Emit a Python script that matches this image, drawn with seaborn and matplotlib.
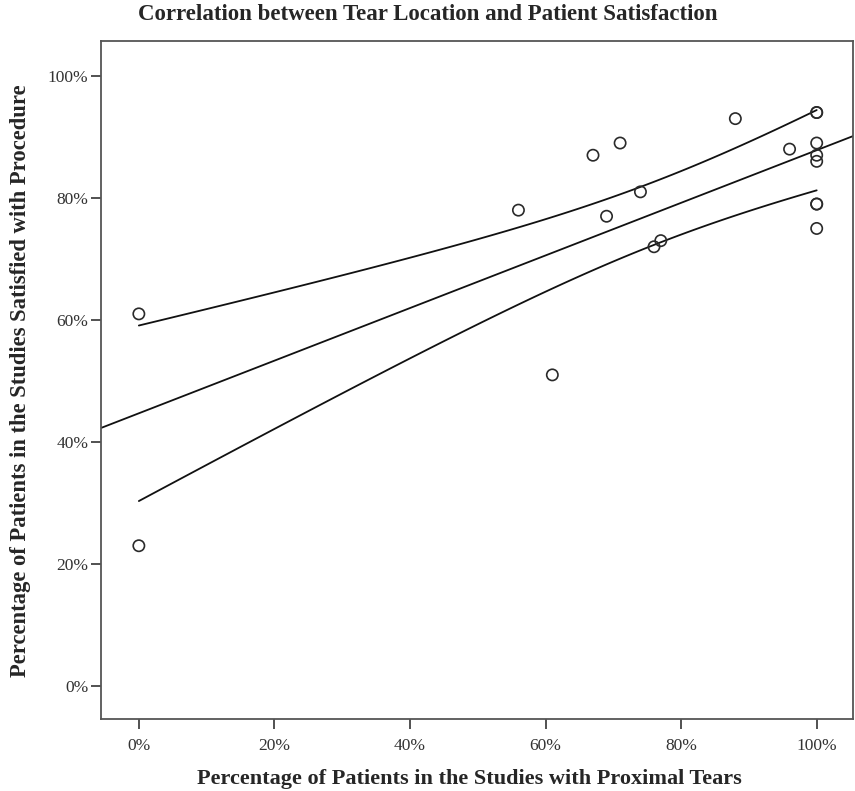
import seaborn as sns
import numpy as np
import pandas as pd
import matplotlib.pyplot as plt
from matplotlib.ticker import PercentFormatter

# values (percent)
proximal_tears = [0, 0, 56, 61, 67, 69, 71, 74, 76, 77, 88, 96,
                  100, 100, 100, 100, 100, 100, 100, 100]
satisfied = [61, 23, 78, 51, 87, 77, 89, 81, 72, 73, 93, 88,
             94, 94, 89, 87, 86, 79, 79, 75]
tick_values = [0, 20, 40, 60, 80, 100]
t_crit = 2.101  # t(0.975, df=18)

df = pd.DataFrame({'Proximal': proximal_tears, 'Satisfied': satisfied})

#  Linear fit and 95% CI of the mean ------------------------------------------------------------
x = df['Proximal'].to_numpy(float)
y = df['Satisfied'].to_numpy(float)
n = len(x)
slope, intercept = np.polyfit(x, y, 1)
resid = y - (intercept + slope * x)
s = np.sqrt((resid ** 2).sum() / (n - 2))
sxx = ((x - x.mean()) ** 2).sum()

xlim = (-5.6, 105.4)
fit = pd.DataFrame({'x': np.linspace(xlim[0], xlim[1], 50)})
fit['y'] = intercept + slope * fit['x']
band = pd.DataFrame({'x': np.linspace(x.min(), x.max(), 100)})
half = t_crit * s * np.sqrt(1 / n + (band['x'] - x.mean()) ** 2 / sxx)
band['lo'] = intercept + slope * band['x'] - half
band['hi'] = intercept + slope * band['x'] + half
#  ----------------------------------------------------------------------------------------------

sns.set_style('white')
plt.rcParams['font.family'] = ['Liberation Serif', 'DejaVu Serif']

fig = plt.figure(figsize=(8.55, 7.91), dpi=100)
ax = fig.add_axes([0.118, 0.091, 0.880, 0.857])

sns.scatterplot(data=df, x='Proximal', y='Satisfied', ax=ax, marker='o', s=66,
                facecolor='none', edgecolor='#2a2a2a', linewidth=1.2, zorder=3)
sns.lineplot(data=fit, x='x', y='y', ax=ax, color='#111111', linewidth=1.3)
sns.lineplot(data=band, x='x', y='lo', ax=ax, color='#111111', linewidth=1.3)
sns.lineplot(data=band, x='x', y='hi', ax=ax, color='#111111', linewidth=1.3)

ax.set_xlim(*xlim)
ax.set_ylim(-5.4, 105.7)
ax.set_xticks(tick_values)
ax.set_yticks(tick_values)
ax.xaxis.set_major_formatter(PercentFormatter(decimals=0))
ax.yaxis.set_major_formatter(PercentFormatter(decimals=0))
ax.tick_params(axis='both', which='major', direction='out', length=7, width=1.2,
               color='#333333', labelsize=12.5, labelcolor='#333333',
               bottom=True, left=True)
ax.tick_params(axis='x', pad=7)
ax.tick_params(axis='y', pad=2)
for sp in ax.spines.values():
    sp.set_color('#555555')
    sp.set_linewidth(1.3)

ax.set_xlabel('Percentage of Patients in the Studies with Proximal Tears',
              fontsize=16, fontweight='bold')
ax.xaxis.set_label_coords(0.49, -0.073)
ax.set_ylabel('Percentage of Patients in the Studies Satisfied with Procedure',
              fontsize=16.3, fontweight='bold')
ax.yaxis.set_label_coords(-0.093, 0.4985)
fig.text(0.5, 1 - 14 / 791, 'Correlation between Tear Location and Patient Satisfaction',
         fontsize=16.5, fontweight='bold', ha='center', va='center')

fig.savefig('out.png', dpi=100)
